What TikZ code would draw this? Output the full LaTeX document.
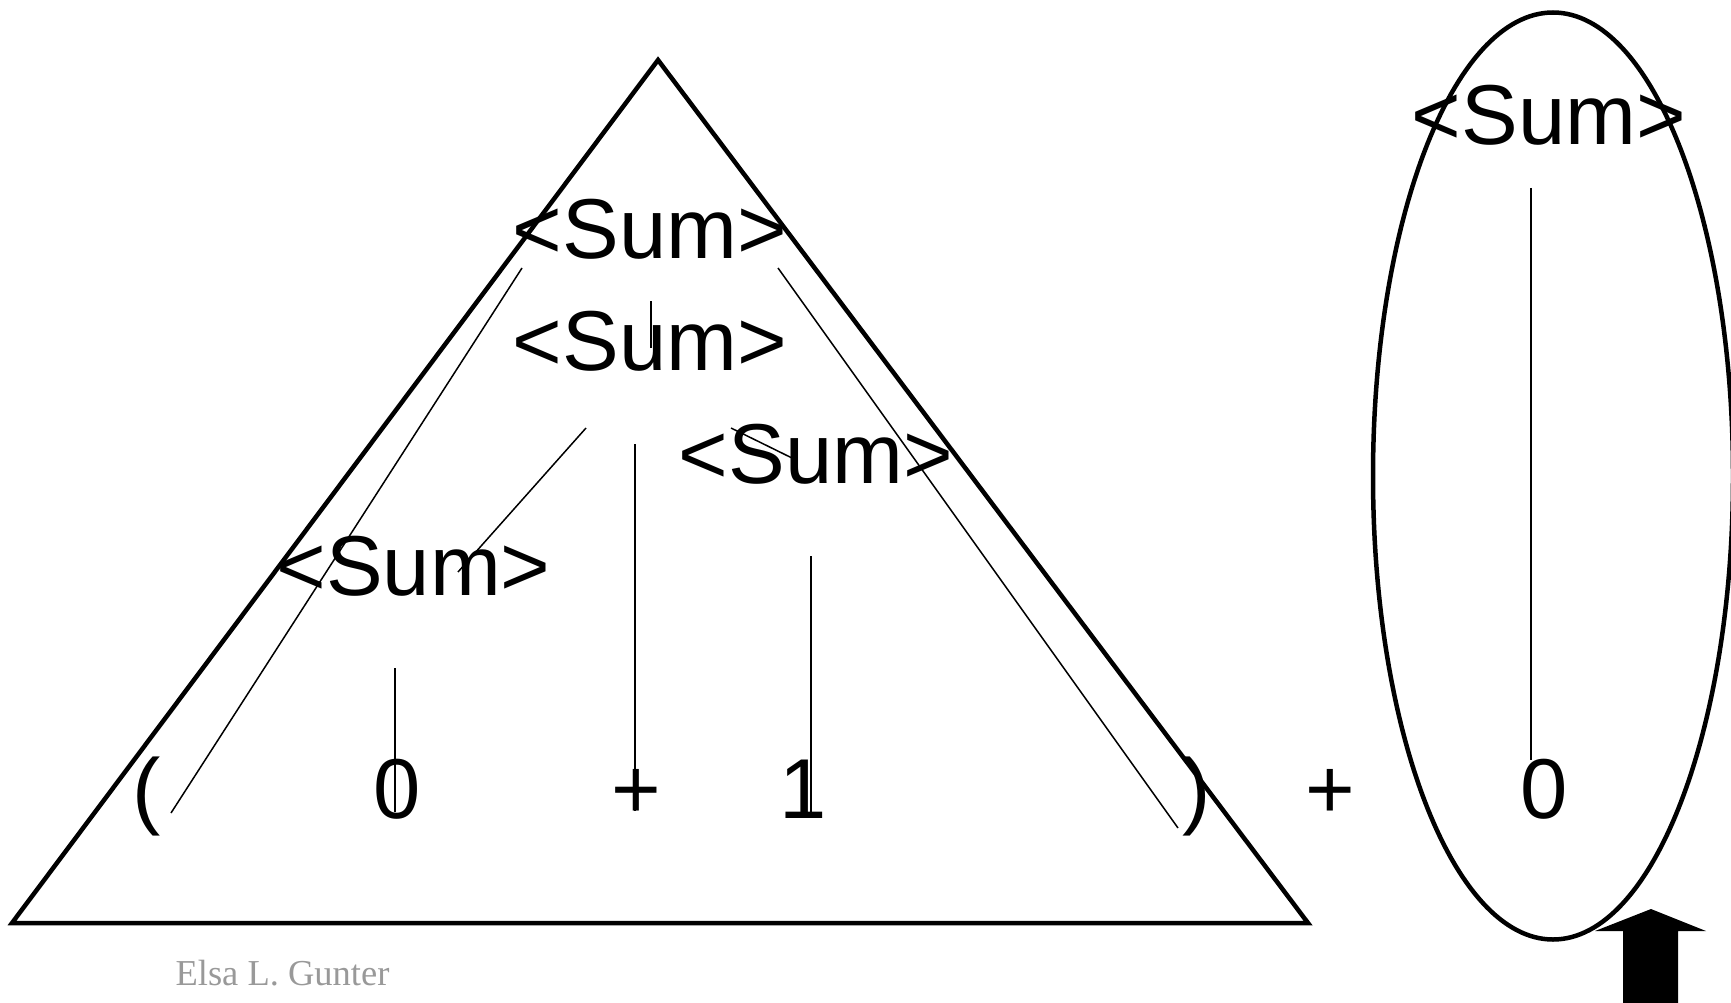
\documentclass[tikz,border=0pt]{standalone}
\usepackage{fontspec}
\setmainfont{Liberation Sans}
\newfontfamily\authorfont{Liberation Serif}
\begin{document}
\begin{tikzpicture}[x=1pt,y=-1pt,
  sym/.style={font=\fontsize{85}{90}\selectfont, inner sep=0pt, anchor=base},
  edge/.style={line width=1.5pt},
  frame/.style={line width=4.5pt, line join=miter},
  author/.style={font=\authorfont\fontsize{36.5}{40}\selectfont, text=black!40, inner sep=0pt, anchor=base}]
\clip (0,0) rectangle (1731,1003);
\useasboundingbox (0,0) rectangle (1731,1003);

% outline shapes
\draw[frame] (658,60) -- (1308,923) -- (12,923) -- cycle;
\draw[frame] (1553,476) ellipse [x radius=180, y radius=463.5];

% nonterminals
\node[sym] (s1) at (650,258) {<Sum>};
\node[sym] (s2) at (650,370) {<Sum>};
\node[sym] (s3) at (816,483) {<Sum>};
\node[sym] (s4) at (413.5,595) {<Sum>};
\node[sym] (s5) at (1549,145) {<Sum>};

% terminals
\node[sym] (lp) at (147,818) {(};
\node[sym] (z1) at (397,818) {0};
\node[sym] (p1) at (636,818) {+};
\node[sym] (o1) at (803,818) {1};
\node[sym] (rp) at (1197,818) {)};
\node[sym] (p2) at (1330,818) {+};
\node[sym] (z2) at (1544,818) {0};

% connector end points
\coordinate (s1a) at (522,268);
\coordinate (lpa) at (171,813);
\coordinate (s1b) at (778,268);
\coordinate (rpa) at (1178,828);
\coordinate (s1c) at (651,301);
\coordinate (s2a) at (651,348);
\coordinate (s2b) at (586,428);
\coordinate (s4a) at (458,572);
\coordinate (s2c) at (635,444);
\coordinate (p1a) at (635,811);
\coordinate (s2d) at (731,428);
\coordinate (s3a) at (792,458);
\coordinate (s3b) at (811,556);
\coordinate (o1a) at (811,817);
\coordinate (s4b) at (395,668);
\coordinate (z1a) at (395,812);
\coordinate (s5a) at (1531,188);
\coordinate (z2a) at (1531,760);

\draw[edge] (s1a) -- (lpa);
\draw[edge] (s1b) -- (rpa);
\draw[edge] (s1c) -- (s2a);
\draw[edge] (s2b) -- (s4a);
\draw[edge] (s2c) -- (p1a);
\draw[edge] (s2d) -- (s3a);
\draw[edge] (s3b) -- (o1a);
\draw[edge] (s4b) -- (z1a);
\draw[edge] (s5a) -- (z2a);

% block arrow
\fill (1651,909) -- (1706,931) -- (1678,931) -- (1678,1010) -- (1623,1010) -- (1623,931) -- (1595,931) -- cycle;

% author
\node[author] (auth) at (282.5,985) {Elsa L. Gunter};
\end{tikzpicture}
\end{document}
